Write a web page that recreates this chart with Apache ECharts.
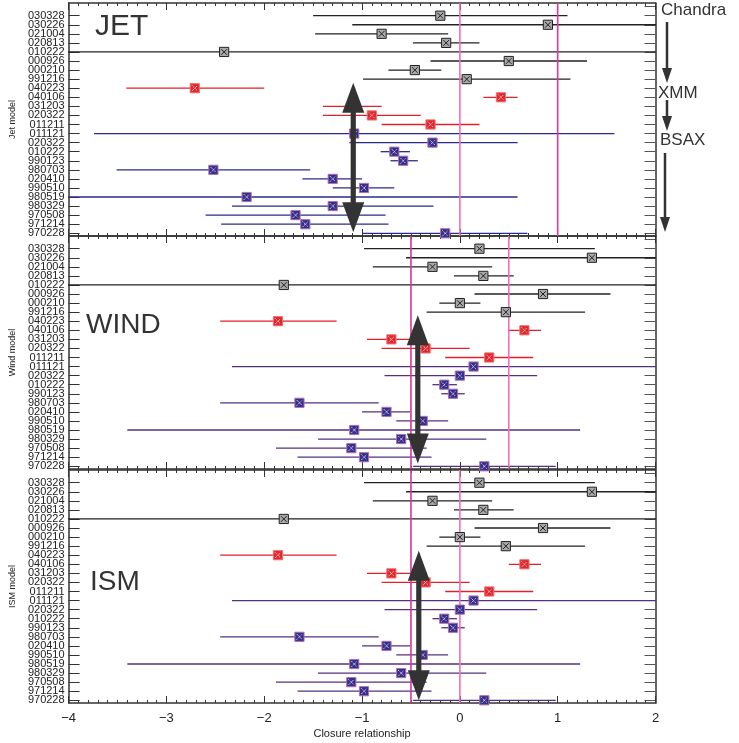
<!DOCTYPE html>
<html><head><meta charset="utf-8">
<script src="https://cdn.jsdelivr.net/npm/echarts@6/dist/echarts.min.js"></script>
<style>html,body{margin:0;padding:0;background:#fff}#c{width:739px;height:743px}</style>
</head><body><div id="c"></div>
<script>
// ---- data ----
const rowLabels = ['030328','030226','021004','020813','010222','000926','000210','991216',
  '040223','040106','031203','020322','011211',
  '011121','020322','010222','990123','980703','020410','990510','980519','980329','970508','971214','970228'];
const rowGroup = ['C','C','C','C','C','C','C','C','X','X','X','X','X',
  'B','B','B','B','B','B','B','B','B','B','B','B'];
// JET model
const jetVal = [-0.20,0.90,-0.80,-0.14,-2.41,0.50,-0.46,0.07,-2.71,0.42,-1.09,-0.90,-0.30,
  -1.08,-0.28,-0.67,-0.58,-2.52,-1.30,-0.98,-2.18,-1.30,-1.68,-1.58,-0.15];
const jetLo = [-1.50,-1.10,-1.48,-0.48,-4.5,-0.30,-0.73,-0.99,-3.41,0.24,-1.40,-1.40,-0.80,
  -3.74,-1.13,-0.81,-0.71,-3.51,-1.61,-1.30,-4.5,-2.33,-2.60,-2.44,-1.00];
const jetHi = [1.10,2.5,-0.12,0.20,2.5,1.30,-0.19,1.13,-2.00,0.59,-0.80,-0.40,0.20,
  1.58,0.59,-0.51,-0.43,-1.53,-1.00,-0.67,0.59,-0.27,-0.76,-0.73,0.69];
// WIND model
const windVal = [0.20,1.35,-0.28,0.24,-1.80,0.85,0.00,0.47,-1.86,0.66,-0.70,-0.35,0.30,
  0.14,0.00,-0.16,-0.07,-1.64,-0.75,-0.38,-1.08,-0.60,-1.11,-0.98,0.25];
const windLo = [-0.98,-0.55,-0.89,-0.06,-4.5,0.15,-0.21,-0.34,-2.45,0.50,-0.95,-0.80,-0.15,
  -2.33,-0.77,-0.28,-0.19,-2.45,-1.00,-0.65,-3.40,-1.45,-1.88,-1.66,-0.48];
const windHi = [1.38,2.5,0.33,0.55,2.5,1.54,0.21,1.28,-1.26,0.83,-0.45,0.10,0.75,
  2.5,0.79,-0.03,0.05,-0.83,-0.51,-0.12,1.23,0.27,-0.34,-0.29,0.98];
// ISM model
const ismVal = [0.20,1.35,-0.28,0.24,-1.80,0.85,0.00,0.47,-1.86,0.66,-0.70,-0.35,0.30,
  0.14,0.00,-0.16,-0.07,-1.64,-0.75,-0.38,-1.08,-0.60,-1.11,-0.98,0.25];
const ismLo = [-0.98,-0.55,-0.89,-0.06,-4.5,0.15,-0.21,-0.34,-2.45,0.50,-0.95,-0.80,-0.15,
  -2.33,-0.77,-0.28,-0.19,-2.45,-1.00,-0.65,-3.40,-1.45,-1.88,-1.66,-0.48];
const ismHi = [1.38,2.5,0.33,0.55,2.5,1.54,0.21,1.28,-1.26,0.83,-0.45,0.10,0.75,
  2.5,0.79,-0.03,0.05,-0.83,-0.51,-0.12,1.23,0.27,-0.34,-0.29,0.98];
// reference lines and big arrows [x, topRow, bottomRow]
const jetRef = [0, 1], windRef = [-0.5, 0.5], ismRef = [-0.5, 0];
const jetArrow = [-1.09, 7.4, 23.9], windArrow = [-0.43, 7.35, 23.7], ismArrow = [-0.42, 7.5, 24.0];
const panelNames = ['JET', 'WIND', 'ISM'];
const axisNames = ['Jet model', 'Wind model', 'ISM model'];
const xTicks = [-4, -3, -2, -1, 0, 1, 2];

// ---- chart ----
const FONT = 'Liberation Sans, Arial, sans-serif';
const YMIN = -1.4, YMAX = 24.3;
const gridTops = [3, 236, 470], gridH = 233;
const panels = [
  {val: jetVal, lo: jetLo, hi: jetHi, ref: jetRef, arrow: jetArrow, blue: '#2b2b8a', refCol: ['#f26fb4', '#e2369a']},
  {val: windVal, lo: windLo, hi: windHi, ref: windRef, arrow: windArrow, blue: '#55307e', refCol: ['#d9349c', '#f26fb4']},
  {val: ismVal, lo: ismLo, hi: ismHi, ref: ismRef, arrow: ismArrow, blue: '#55307e', refCol: ['#d9349c', '#f26fb4']}
];
const lineCol = {C: '#222', X: '#e2202a'};
const markFill = {C: '#a8a8a8', X: '#e3262e', B: '#36308c'};
const markStroke = {C: '#222', X: '#f07070', B: '#b070b0'};
const markX = {C: '#222', X: '#fff', B: '#fff'};

const grid = [], xAxis = [], yAxis = [], series = [];
const tickRows = [], labelRows = [-1];
for (let i = -1; i < rowLabels.length; i++) { tickRows.push(i); if (i >= 0) labelRows.push(i); }
labelRows.push(YMAX);   // dummy end slots so min/max label hiding never touches real labels

panels.forEach((p, gi) => {
  grid.push({left: 65.5, right: 83.5, top: gridTops[gi], height: gridH});
  const axLine = {onZero: false, lineStyle: {color: '#333', width: 1.5}};
  const isLast = gi === panels.length - 1;
  xAxis.push({
    type: 'value', gridIndex: gi, position: 'bottom', min: -4, max: 2, interval: 1,
    axisLine: axLine, splitLine: {show: false},
    axisTick: {inside: true, length: 7, lineStyle: {color: '#333'}},
    minorTick: {show: true, splitNumber: 10, length: 3, lineStyle: {color: '#333'}},
    axisLabel: {show: isLast, margin: 9, fontFamily: FONT, fontSize: 13, color: '#222',
      formatter: v => xTicks.includes(v) ? (v < 0 ? '\u2212' + Math.abs(v) : String(v)) : ''},
    name: isLast ? 'Closure relationship' : '', nameLocation: 'middle', nameGap: 25,
    nameTextStyle: {fontFamily: FONT, fontSize: 11, color: '#222'}
  });
  xAxis.push({
    type: 'value', gridIndex: gi, position: 'top', min: -4, max: 2, interval: 1,
    axisLine: axLine, splitLine: {show: false},
    axisTick: {inside: true, length: 7, lineStyle: {color: '#333'}},
    minorTick: {show: true, splitNumber: 10, length: 3, lineStyle: {color: '#333'}},
    axisLabel: {show: false}
  });
  yAxis.push({
    type: 'value', gridIndex: gi, position: 'left', min: YMIN, max: YMAX, inverse: true,
    axisLine: axLine, splitLine: {show: false},
    axisTick: {inside: true, length: 11, customValues: tickRows, lineStyle: {color: '#333'}},
    axisLabel: {customValues: labelRows, showMinLabel: false, showMaxLabel: false, hideOverlap: false,
      margin: 4, fontFamily: FONT, fontSize: 11, color: '#222',
      formatter: v => (v >= 0 && Math.abs(v - Math.round(v)) < 0.01) ? (rowLabels[Math.round(v)] || '') : ''},
    name: axisNames[gi], nameLocation: 'middle', nameGap: 47,
    nameTextStyle: {fontFamily: FONT, fontSize: 9, color: '#222'}
  });
  yAxis.push({
    type: 'value', gridIndex: gi, position: 'right', min: YMIN, max: YMAX, inverse: true,
    axisLine: axLine, splitLine: {show: false},
    axisTick: {inside: true, length: 11, customValues: tickRows, lineStyle: {color: '#555'}},
    axisLabel: {show: false}
  });
  const xi = gi * 2, yi = gi * 2;
  // reference vertical lines
  series.push({
    type: 'custom', xAxisIndex: xi, yAxisIndex: yi, z: 3, silent: true,
    data: p.ref.map((v, k) => [v, k]),
    renderItem: (params, api) => {
      const a = api.coord([api.value(0), YMIN]), b = api.coord([api.value(0), YMAX]);
      return {type: 'line', shape: {x1: a[0], y1: a[1], x2: b[0], y2: b[1]},
        style: {stroke: p.refCol[api.value(1)], lineWidth: 1.6}};
    }
  });
  // error bars
  series.push({
    type: 'custom', xAxisIndex: xi, yAxisIndex: yi, z: 2, clip: true, silent: true,
    data: p.val.map((v, r) => [v, r, p.lo[r], p.hi[r]]),
    renderItem: (params, api) => {
      const r = api.value(1), g = rowGroup[r];
      const a = api.coord([api.value(2), r]), b = api.coord([api.value(3), r]);
      return {type: 'line', shape: {x1: a[0], y1: a[1], x2: b[0], y2: b[1]},
        style: {stroke: g === 'B' ? p.blue : lineCol[g], lineWidth: 1.3}};
    }
  });
  // markers
  series.push({
    type: 'custom', xAxisIndex: xi, yAxisIndex: yi, z: 4, silent: true,
    data: p.val.map((v, r) => [v, r]),
    renderItem: (params, api) => {
      const r = api.value(1), g = rowGroup[r];
      const c = api.coord([api.value(0), r]), h = 4.6;
      return {type: 'group', children: [
        {type: 'rect', shape: {x: c[0] - h, y: c[1] - h, width: 2 * h, height: 2 * h},
          style: {fill: markFill[g], stroke: markStroke[g], lineWidth: 1}},
        {type: 'line', shape: {x1: c[0] - h + 1.8, y1: c[1] - h + 1.8, x2: c[0] + h - 1.8, y2: c[1] + h - 1.8},
          style: {stroke: markX[g], lineWidth: 1, lineDash: g === 'C' ? null : [1, 1]}},
        {type: 'line', shape: {x1: c[0] - h + 1.8, y1: c[1] + h - 1.8, x2: c[0] + h - 1.8, y2: c[1] - h + 1.8},
          style: {stroke: markX[g], lineWidth: 1, lineDash: g === 'C' ? null : [1, 1]}}
      ]};
    }
  });
  // big double arrow
  series.push({
    type: 'custom', xAxisIndex: xi, yAxisIndex: yi, z: 6, silent: true,
    data: [p.arrow],
    renderItem: (params, api) => {
      const t = api.coord([api.value(0), api.value(1)]), b = api.coord([api.value(0), api.value(2)]);
      const x = t[0], hl = 30, hw = 11, sw = 2.6;
      return {type: 'group', children: [
        {type: 'rect', shape: {x: x - sw, y: t[1] + hl - 2, width: 2 * sw, height: b[1] - t[1] - 2 * hl + 4},
          style: {fill: '#333'}},
        {type: 'polygon', shape: {points: [[x, t[1]], [x - hw, t[1] + hl], [x + hw, t[1] + hl]]}, style: {fill: '#333'}},
        {type: 'polygon', shape: {points: [[x, b[1]], [x - hw, b[1] - hl], [x + hw, b[1] - hl]]}, style: {fill: '#333'}}
      ]};
    }
  });
});

const titlePos = [[95, 12, 30], [86, 311, 28], [90, 568, 28]];
const graphic = panelNames.map((n, i) => ({
  type: 'text', left: titlePos[i][0], top: titlePos[i][1], z: 10,
  style: {text: n, fontFamily: FONT, fontSize: titlePos[i][2], fill: '#333'}
}));
function downArrow(x, y1, y2) {
  return [
    {type: 'line', z: 10, shape: {x1: x, y1: y1, x2: x, y2: y2 - 12}, style: {stroke: '#333', lineWidth: 2.5}},
    {type: 'polygon', z: 10, shape: {points: [[x, y2], [x - 5, y2 - 15], [x + 5, y2 - 15]]}, style: {fill: '#333'}}
  ];
}
graphic.push(
  {type: 'text', left: 661, top: 2, z: 10, style: {text: 'Chandra', fontFamily: FONT, fontSize: 17, fill: '#333'}},
  {type: 'text', left: 658, top: 85, z: 10, style: {text: 'XMM', fontFamily: FONT, fontSize: 17, fill: '#333'}},
  {type: 'text', left: 660, top: 132, z: 10, style: {text: 'BSAX', fontFamily: FONT, fontSize: 17, fill: '#333'}},
  ...downArrow(667, 22, 83), ...downArrow(667, 100, 131), ...downArrow(665, 153, 232)
);

const chart = echarts.init(document.getElementById('c'), null, {renderer: 'canvas'});
chart.setOption({animation: false, backgroundColor: '#fff', grid, xAxis, yAxis, series, graphic});
</script></body></html>
